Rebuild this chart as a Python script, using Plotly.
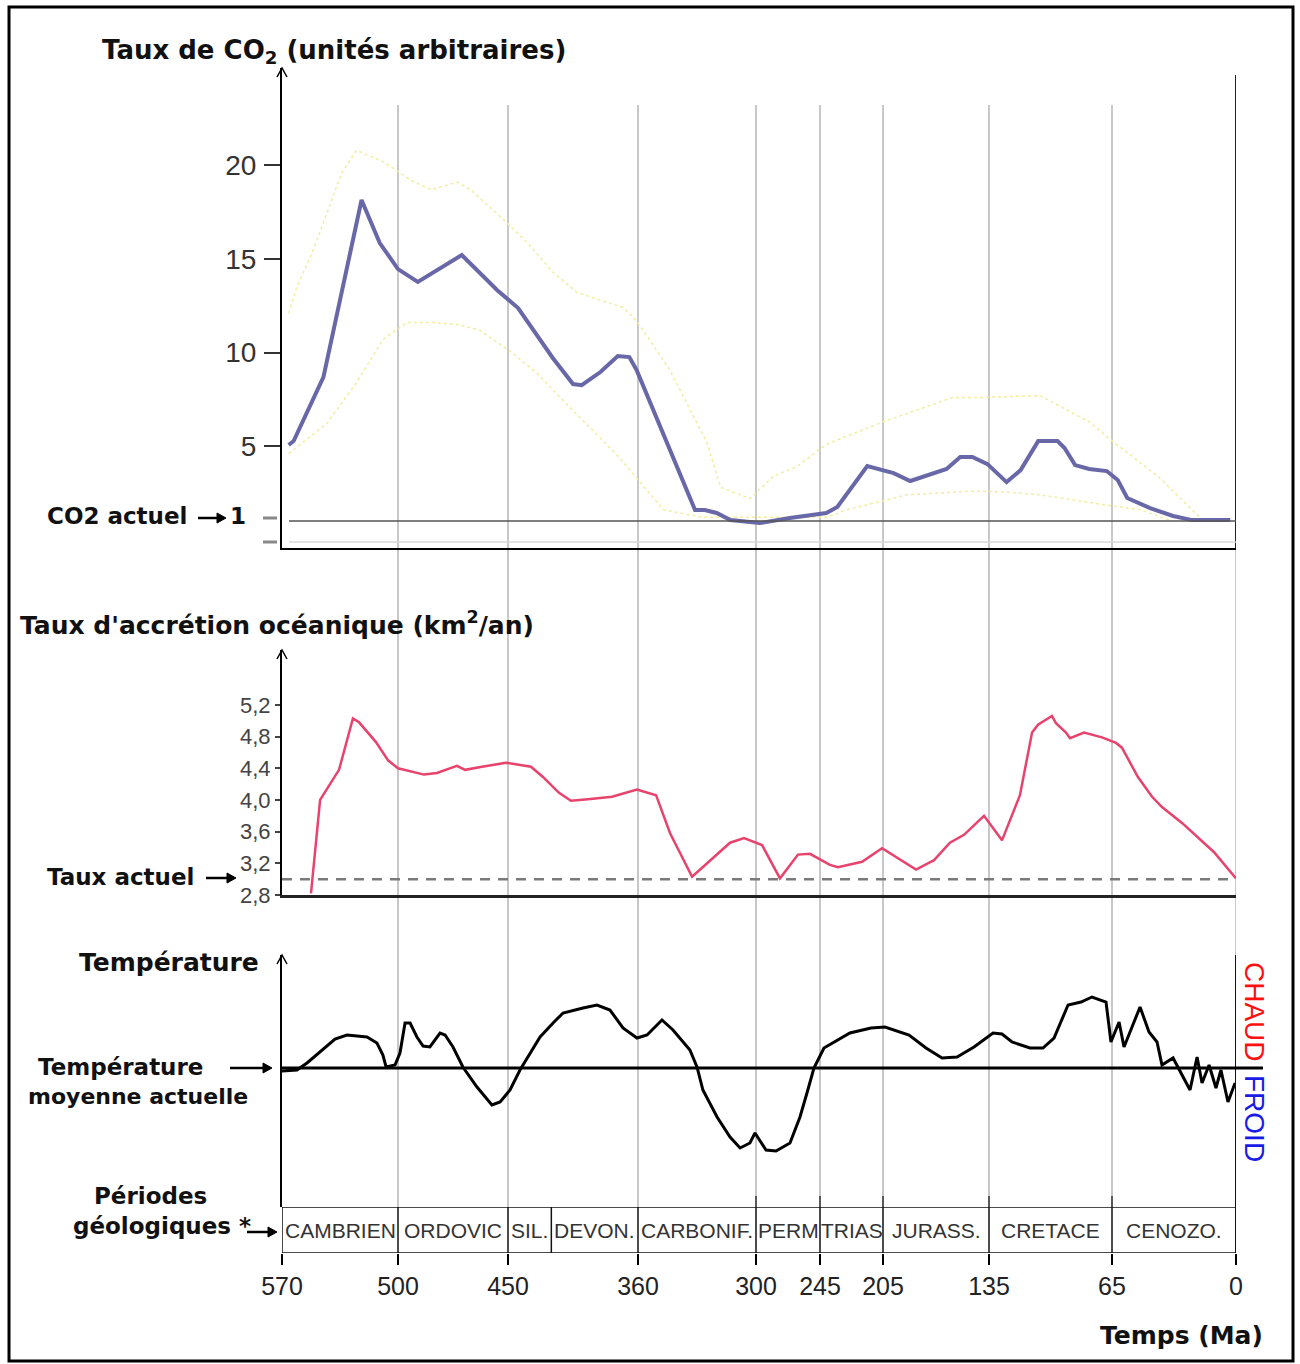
import numpy as np
import plotly.graph_objects as go

# ---------------- DATA ----------------
TICK_MA = [570, 500, 450, 360, 300, 245, 205, 135, 65, 0]
TICK_TEXT = [str(v) for v in TICK_MA]
GRID_MA = [500, 450, 360, 300, 245, 205, 135, 65, 0]

PERIOD_NAMES = ["CAMBRIEN", "ORDOVIC", "SIL.", "DEVON.", "CARBONIF.", "PERM", "TRIAS",
                "JURASS.", "CRETACE", "CENOZO."]
PERIOD_START = [570, 500, 450, 420, 360, 300, 245, 205, 135, 65]
PERIOD_END = [500, 450, 420, 360, 300, 245, 205, 135, 65, 0]

# CO2 (arbitrary units)
CO2_MA = [566, 563, 545, 522, 511, 500, 491, 482, 471, 455, 443, 419, 405, 399, 386, 374,
          366, 361, 331, 326, 320, 313, 297, 271, 241, 234, 225, 215, 198, 187, 163, 154,
          146, 136, 125, 117, 107, 96, 92, 86, 78, 68, 62, 57, 45, 33, 23, 3]
CO2_VAL = [5.06, 5.27, 8.69, 18.15, 15.85, 14.46, 13.77, 14.41, 15.21, 13.34, 12.38, 9.71,
           8.32, 8.26, 8.96, 9.81, 9.76, 9.07, 1.59, 1.59, 1.43, 1.05, 0.89, 1.16, 1.43,
           1.75, 2.82, 3.94, 3.56, 3.14, 3.78, 4.42, 4.42, 4.04, 3.08, 3.72, 5.27, 5.27,
           4.90, 3.99, 3.78, 3.67, 3.19, 2.23, 1.69, 1.27, 1.05, 1.05]
CO2_UP_MA = [566, 561, 551, 534, 525, 509, 494, 485, 473, 467, 452, 437, 419, 402, 370, 361,
             344, 325, 318, 303, 285, 265, 241, 205, 159, 141, 106, 78, 64, 41, 19]
CO2_UP_VAL = [12.1, 13.5, 15.5, 19.6, 20.8, 20.2, 19.2, 18.7, 19.1, 18.7, 17.1, 15.9, 14.3,
              13.2, 12.4, 11.7, 9.1, 5.2, 2.8, 2.2, 3.4, 3.9, 5.1, 6.3, 7.6, 7.6, 7.7, 6.3,
              5.2, 3.4, 1.2]
CO2_LO_MA = [566, 543, 525, 509, 496, 484, 473, 463, 449, 430, 405, 373, 347, 327, 241, 228,
             189, 167, 146, 125, 106, 68, 50, 35]
CO2_LO_VAL = [4.6, 6.2, 8.4, 10.7, 11.6, 11.6, 11.5, 11.2, 10.1, 8.9, 6.9, 4.4, 1.6, 1.2,
              1.2, 1.6, 2.4, 2.5, 2.6, 2.55, 2.4, 1.85, 1.6, 1.05]
CO2_TICKS = [5, 10, 15, 20]
CO2_ACTUEL = 1

# Taux d'accretion oceanique (km2/an)
ACC_MA = [552.5, 547, 535.6, 527.2, 523.5, 513.3, 506, 500, 488.2, 482.3, 473.2, 469.5,
          461.8, 450.9, 434.1, 425.8, 414.7, 406.4, 394.6, 378, 360.7, 350.8, 343.7, 332.5,
          313.2, 306.1, 294.8, 279.4, 263.9, 253.6, 238.7, 233.6, 218.3, 205.6, 183.2,
          171.3, 160.8, 151.5, 138.3, 127.6, 117.4, 110.5, 107.1, 99.2, 96.9, 91.2, 88.9,
          80.9, 70.7, 62.9, 59.8, 51.4, 44, 38.8, 28.3, 11.5, 0]
ACC_VAL = [2.82, 4.0, 4.38, 5.03, 4.98, 4.73, 4.5, 4.4, 4.32, 4.34, 4.43, 4.38, 4.42, 4.47,
           4.42, 4.29, 4.09, 3.99, 4.01, 4.04, 4.13, 4.06, 3.58, 3.03, 3.46, 3.52, 3.43,
           3.01, 3.31, 3.32, 3.18, 3.15, 3.22, 3.39, 3.12, 3.24, 3.46, 3.56, 3.8, 3.49,
           4.06, 4.85, 4.95, 5.06, 4.97, 4.85, 4.78, 4.85, 4.79, 4.72, 4.66, 4.29, 4.04,
           3.91, 3.71, 3.34, 3.01]
ACC_TICKS = [2.8, 3.2, 3.6, 4.0, 4.4, 4.8, 5.2]
ACC_TICK_TEXT = ["2,8", "3,2", "3,6", "4,0", "4,4", "4,8", "5,2"]
TAUX_ACTUEL = 3.0

# Temperature (ecart a la moyenne actuelle, unites arbitraires)
TEMP_MA = [570, 561, 554.9, 545.9, 538, 530.8, 518.7, 512.7, 509.1, 507.2, 501.8, 499.1,
           496.8, 494.5, 491.4, 488.6, 485.5, 480.9, 478.6, 475, 470.5, 464.1, 457.3, 453.6,
           448.6, 441.7, 434.8, 427.8, 418.8, 411.9, 398.1, 388.4, 379.4, 370.4, 360.7,
           355.4, 347.8, 342.2, 333.6, 330, 327, 319.8, 313.2, 308.1, 303.1, 300.5, 291.4,
           282.8, 270.8, 262.2, 256.2, 250.2, 242.5, 236.7, 226, 212.6, 203.7, 187.8,
           176.6, 166, 156.1, 144.9, 132.7, 127.6, 121.9, 111.7, 104.3, 98, 90, 82.6, 76.4,
           68.4, 65.6, 61.3, 58.7, 50.3, 45.6, 41.4, 38.8, 33, 30.4, 24.1, 20.4, 17.8, 14.1,
           10.5, 7.9, 4.2, 0.5]
TEMP_VAL = [-0.3, -0.2, 0.5, 1.8, 2.9, 3.3, 3.1, 2.5, 1.3, 0.1, 0.3, 1.5, 4.5, 4.5, 3.1,
            2.2, 2.1, 3.5, 3.3, 2.1, 0.1, -1.9, -3.7, -3.4, -2.2, -0.2, 1.5, 3.1, 4.5, 5.5,
            6.0, 6.3, 5.8, 4.0, 3.0, 3.3, 4.8, 3.8, 1.8, 0.1, -2.2, -4.9, -6.9, -8.0, -7.5,
            -6.5, -8.2, -8.3, -7.5, -4.9, -2.5, 0.0, 2.0, 2.5, 3.5, 4.0, 4.1, 3.3, 2.0, 1.0,
            1.1, 2.1, 3.5, 3.4, 2.6, 2.0, 2.0, 3.0, 6.3, 6.6, 7.1, 6.6, 2.6, 4.6, 2.1, 6.1,
            3.6, 2.6, 0.3, 1.0, 0.1, -2.2, 1.1, -1.5, 0.3, -2.0, -0.2, -3.4, -1.5]
TEMP_ACTUEL = 0

# ---------------- LAYOUT HELPERS ----------------
W, H = 1300, 1364
# non-linear geological time axis: position of each labelled tick along the axis
TIME_AXIS_POS = [0, 116, 226, 356, 474, 538, 601, 707, 830, 954]
_XP = [-m for m in TICK_MA]


def tpos(ma):
    return np.interp(-np.asarray(ma, dtype=float), _XP, TIME_AXIS_POS)


def px(x):
    return x / W


def py(y):
    return 1 - y / H


XDOM = [px(282), px(1236)]
XRANGE = [0, TIME_AXIS_POS[-1]]
COMIC = "DejaVu Sans, sans-serif"
TITLE_FONT = dict(family=COMIC, size=26, color="#111", weight="bold")
LABEL_FONT = dict(family=COMIC, size=23, color="#111", weight="bold")
ARIAL = "Liberation Sans, Arial, sans-serif"

fig = go.Figure()

# CO2 envelope (yellow dotted) and curve
fig.add_trace(go.Scatter(x=tpos(CO2_UP_MA), y=CO2_UP_VAL, mode="lines", xaxis="x", yaxis="y",
                         line=dict(color="#f2eda0", width=1.5, dash="dot"), hoverinfo="skip"))
fig.add_trace(go.Scatter(x=tpos(CO2_LO_MA), y=CO2_LO_VAL, mode="lines", xaxis="x", yaxis="y",
                         line=dict(color="#f2eda0", width=1.5, dash="dot"), hoverinfo="skip"))
fig.add_trace(go.Scatter(x=tpos(CO2_MA), y=CO2_VAL, mode="lines", xaxis="x", yaxis="y",
                         line=dict(color="#6868a8", width=4)))

# Accretion
fig.add_trace(go.Scatter(x=tpos(ACC_MA), y=ACC_VAL, mode="lines", xaxis="x2", yaxis="y2",
                         line=dict(color="#e8436c", width=2.5)))

# Temperature
fig.add_trace(go.Scatter(x=tpos(TEMP_MA), y=TEMP_VAL, mode="lines", xaxis="x3", yaxis="y3",
                         line=dict(color="#000000", width=3)))

shapes = []
# outer frame
shapes.append(dict(type="rect", xref="paper", yref="paper", x0=px(9), x1=px(1293),
                   y0=py(1361), y1=py(7), line=dict(color="black", width=3)))
# vertical grid lines across all panels
for m in GRID_MA:
    shapes.append(dict(type="line", xref="x", yref="paper", x0=float(tpos(m)), x1=float(tpos(m)),
                       y0=py(1207), y1=py(105), line=dict(color="#c8c8c8", width=2), layer="below"))
# right frame segments
shapes.append(dict(type="line", xref="x", yref="paper", x0=float(tpos(0)), x1=float(tpos(0)),
                   y0=py(548), y1=py(75), line=dict(color="#222", width=2)))
shapes.append(dict(type="line", xref="x", yref="paper", x0=float(tpos(0)), x1=float(tpos(0)),
                   y0=py(1253), y1=py(955), line=dict(color="#111", width=2)))
# boundary marks just above the period box
for m in [300, 245, 205, 135, 65]:
    shapes.append(dict(type="line", xref="x", yref="paper", x0=float(tpos(m)), x1=float(tpos(m)),
                       y0=py(1207), y1=py(1196), line=dict(color="#333", width=1.5)))
# CO2 actuel reference line
shapes.append(dict(type="line", xref="paper", yref="y", x0=px(289), x1=px(1236),
                   y0=CO2_ACTUEL, y1=CO2_ACTUEL, line=dict(color="#555", width=1.5)))
shapes.append(dict(type="line", xref="paper", yref="paper", x0=px(289), x1=px(1236),
                   y0=py(542), y1=py(542), line=dict(color="#d8d8d8", width=1.5)))
for yy in (518, 542):
    shapes.append(dict(type="line", xref="paper", yref="paper", x0=px(263), x1=px(277),
                       y0=py(yy), y1=py(yy), line=dict(color="#888", width=3)))
# taux actuel dashed line
shapes.append(dict(type="line", xref="x2", yref="y2", x0=XRANGE[0], x1=XRANGE[1],
                   y0=TAUX_ACTUEL, y1=TAUX_ACTUEL,
                   line=dict(color="#7a7a7a", width=2.5, dash="10px,8px")))
# temperature reference line
shapes.append(dict(type="line", xref="paper", yref="y3", x0=px(282), x1=px(1263),
                   y0=TEMP_ACTUEL, y1=TEMP_ACTUEL, line=dict(color="black", width=3)))
# period box
shapes.append(dict(type="rect", xref="x4", yref="y4", x0=float(tpos(570)), x1=float(tpos(0)),
                   y0=0, y1=1, line=dict(color="#111", width=1.5)))
for s in PERIOD_START[1:]:
    shapes.append(dict(type="line", xref="x4", yref="y4", x0=float(tpos(s)), x1=float(tpos(s)),
                       y0=0, y1=1, line=dict(color="#111", width=1.5)))
# y-axis arrowheads
for ytop in (68, 650, 955):
    shapes.append(dict(type="path", xref="paper", yref="paper",
                       path=f"M {px(277)},{py(ytop + 9)} L {px(282)},{py(ytop)} L {px(287)},{py(ytop + 9)}",
                       line=dict(color="black", width=1.5)))


def arrow(x0, x1, y):
    """Small pointing arrow (label -> axis) drawn as shapes."""
    shapes.append(dict(type="line", xref="paper", yref="paper", x0=px(x0), x1=px(x1 - 6),
                       y0=py(y), y1=py(y), line=dict(color="black", width=2.5)))
    shapes.append(dict(type="path", xref="paper", yref="paper",
                       path=f"M {px(x1 - 9)},{py(y - 5)} L {px(x1)},{py(y)} L {px(x1 - 9)},{py(y + 5)} Z",
                       fillcolor="black", line=dict(color="black", width=1)))


annotations = []


def text(t, x, y, font, xanchor="left"):
    annotations.append(dict(text=t, x=px(x), y=py(y), xref="paper", yref="paper",
                            showarrow=False, xanchor=xanchor, yanchor="middle", font=font))


text("Taux de CO<sub>2</sub> (unités arbitraires)", 100, 52, TITLE_FONT)
text("Taux d'accrétion océanique (km<sup>2</sup>/an)", 18, 623, dict(TITLE_FONT, size=25))
text("Température", 77, 962, dict(TITLE_FONT, size=25))
text("CO2 actuel", 45, 516, LABEL_FONT)
arrow(198, 226, 518)
text("1", 228, 516, LABEL_FONT)
text("Taux actuel", 45, 877, LABEL_FONT)
arrow(206, 236, 878)
text("Température", 120, 1067, LABEL_FONT, "center")
arrow(230, 272, 1068)
text("moyenne actuelle", 138, 1096, dict(LABEL_FONT, size=22), "center")
text("Périodes", 150, 1196, LABEL_FONT, "center")
text("géologiques *", 162, 1226, LABEL_FONT, "center")
arrow(247, 277, 1232)
text("Temps (Ma)", 1265, 1335, dict(TITLE_FONT, size=25), "right")

annotations.append(dict(text="CHAUD", x=px(1255), y=py(1012), xref="paper", yref="paper",
                        showarrow=False, textangle=90, xanchor="center", yanchor="middle",
                        font=dict(family=ARIAL, size=28, color="#ff1010")))
annotations.append(dict(text="FROID", x=px(1255), y=py(1118), xref="paper", yref="paper",
                        showarrow=False, textangle=90, xanchor="center", yanchor="middle",
                        font=dict(family=ARIAL, size=28, color="#1a1ae6")))

for name, s, e in zip(PERIOD_NAMES, PERIOD_START, PERIOD_END):
    annotations.append(dict(text=name, x=float((tpos(s) + tpos(e)) / 2), y=0.5, xref="x4", yref="y4",
                            showarrow=False, font=dict(family=ARIAL, size=21, color="#333")))

common_x = dict(domain=XDOM, range=XRANGE, showgrid=False, zeroline=False, fixedrange=True,
                automargin=False)

fig.update_layout(
    width=W, height=H, margin=dict(l=0, r=0, t=0, b=0, pad=0, autoexpand=False),
    paper_bgcolor="white", plot_bgcolor="rgba(0,0,0,0)", showlegend=False,
    xaxis=dict(common_x, anchor="y", showline=True, linecolor="black", linewidth=2,
               showticklabels=False, ticks=""),
    xaxis2=dict(common_x, anchor="y2", showline=True, linecolor="#222", linewidth=3,
                showticklabels=False, ticks=""),
    xaxis3=dict(common_x, anchor="y3", showline=False, showticklabels=False, ticks=""),
    xaxis4=dict(common_x, anchor="y4", showline=False, ticks="outside", ticklen=11, tickwidth=2,
                tickcolor="black", tickvals=list(tpos(TICK_MA)), ticktext=TICK_TEXT,
                tickfont=dict(family=ARIAL, size=25, color="#222"), ticklabelstandoff=0),
    yaxis=dict(domain=[py(548), py(68)], range=[-0.44, 25.2], anchor="x", showline=True,
               linecolor="black", linewidth=2, showgrid=False, zeroline=False, automargin=False,
               tickvals=CO2_TICKS, ticks="outside", ticklen=16, tickwidth=2, tickcolor="#333",
               tickfont=dict(family=ARIAL, size=28, color="#333"), ticklabelstandoff=2),
    yaxis2=dict(domain=[py(895), py(650)], range=[2.8, 5.893], anchor="x2", showline=True,
                linecolor="black", linewidth=2, showgrid=False, zeroline=False, automargin=False,
                tickvals=ACC_TICKS, ticktext=ACC_TICK_TEXT, ticks="outside", ticklen=5,
                tickwidth=2, tickcolor="#444",
                tickfont=dict(family=ARIAL, size=22, color="#444")),
    yaxis3=dict(domain=[py(1207), py(955)], range=[-13.9, 11.3], anchor="x3", showline=True,
                linecolor="black", linewidth=2, showgrid=False, zeroline=False, automargin=False,
                showticklabels=False, ticks=""),
    yaxis4=dict(domain=[py(1253), py(1207)], range=[0, 1], anchor="x4", showline=False,
                showgrid=False, zeroline=False, showticklabels=False, ticks="", automargin=False),
    shapes=shapes, annotations=annotations,
)

fig.write_html("out.html", config={"displayModeBar": False},
               post_script="document.body.style.margin='0px';document.body.style.overflow='hidden';")
